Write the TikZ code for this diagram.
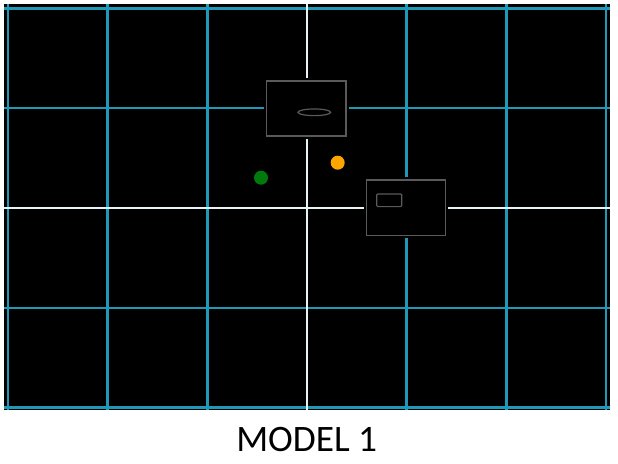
\documentclass[tikz,border=0pt]{standalone}
\usepackage{fontspec}
\setmainfont{Carlito}
\usepackage{xcolor}
\usepackage{tikz}
\usetikzlibrary{shapes,positioning,calc}
\definecolor{gridcyan}{HTML}{1E9AB8}
\definecolor{axiswhite}{HTML}{E6F4F8}
\definecolor{panelgray}{HTML}{5A5A5A}
\definecolor{dotgreen}{HTML}{007A0C}
\definecolor{dotorange}{HTML}{FFA500}

\begin{document}
\begin{tikzpicture}[x=0.75pt, y=-0.75pt,
    gridline/.style={gridcyan, line width=1.8pt},
    axisline/.style={axiswhite, line width=1.8pt},
    panel/.style={draw=panelgray, fill=black, line width=0.9pt, inner sep=0pt,
        preaction={draw=black, line width=4pt}},
    outline/.style={draw=panelgray, line width=0.9pt, inner sep=0pt},
    dot/.style={circle, inner sep=0pt, minimum size=10.5pt}]
    \useasboundingbox (0,0) rectangle (618,464);
    \fill[black] (4,4) rectangle (610,410);

    % Grid
    \foreach \i in {0,1,2,4,5,6}
        \draw[gridline] ({8+99.67*\i},4) -- ({8+99.67*\i},410);
    \foreach \j in {0,1,3,4}
        \draw[gridline] (4,{8.5+99.75*\j}) -- (610,{8.5+99.75*\j});
    \draw[axisline] (307,4) -- (307,410);
    \draw[axisline] (4,208) -- (610,208);

    % Panels
    \node[panel, minimum width=59.5pt, minimum height=41.25pt] (top) at (306.3,108.5) {};
    \node[outline, ellipse, minimum width=24.5pt, minimum height=5pt] (lens) at (314.3,112.3) {};
    \node[panel, minimum width=59pt, minimum height=41.8pt] (bottom) at (406,207.9) {};
    \node[outline, rectangle, rounded corners=0.8pt, minimum width=18.75pt, minimum height=9.5pt] (slot) at (389.2,200.3) {};

    % Markers
    \node[dot, fill=dotgreen] (green) at (261,177.7) {};
    \node[dot, fill=dotorange] (orange) at (337.7,162.7) {};

    \node[anchor=base, font=\fontsize{28}{33}\selectfont] (caption) at (306.7,451) {MODEL 1};
\end{tikzpicture}
\end{document}
